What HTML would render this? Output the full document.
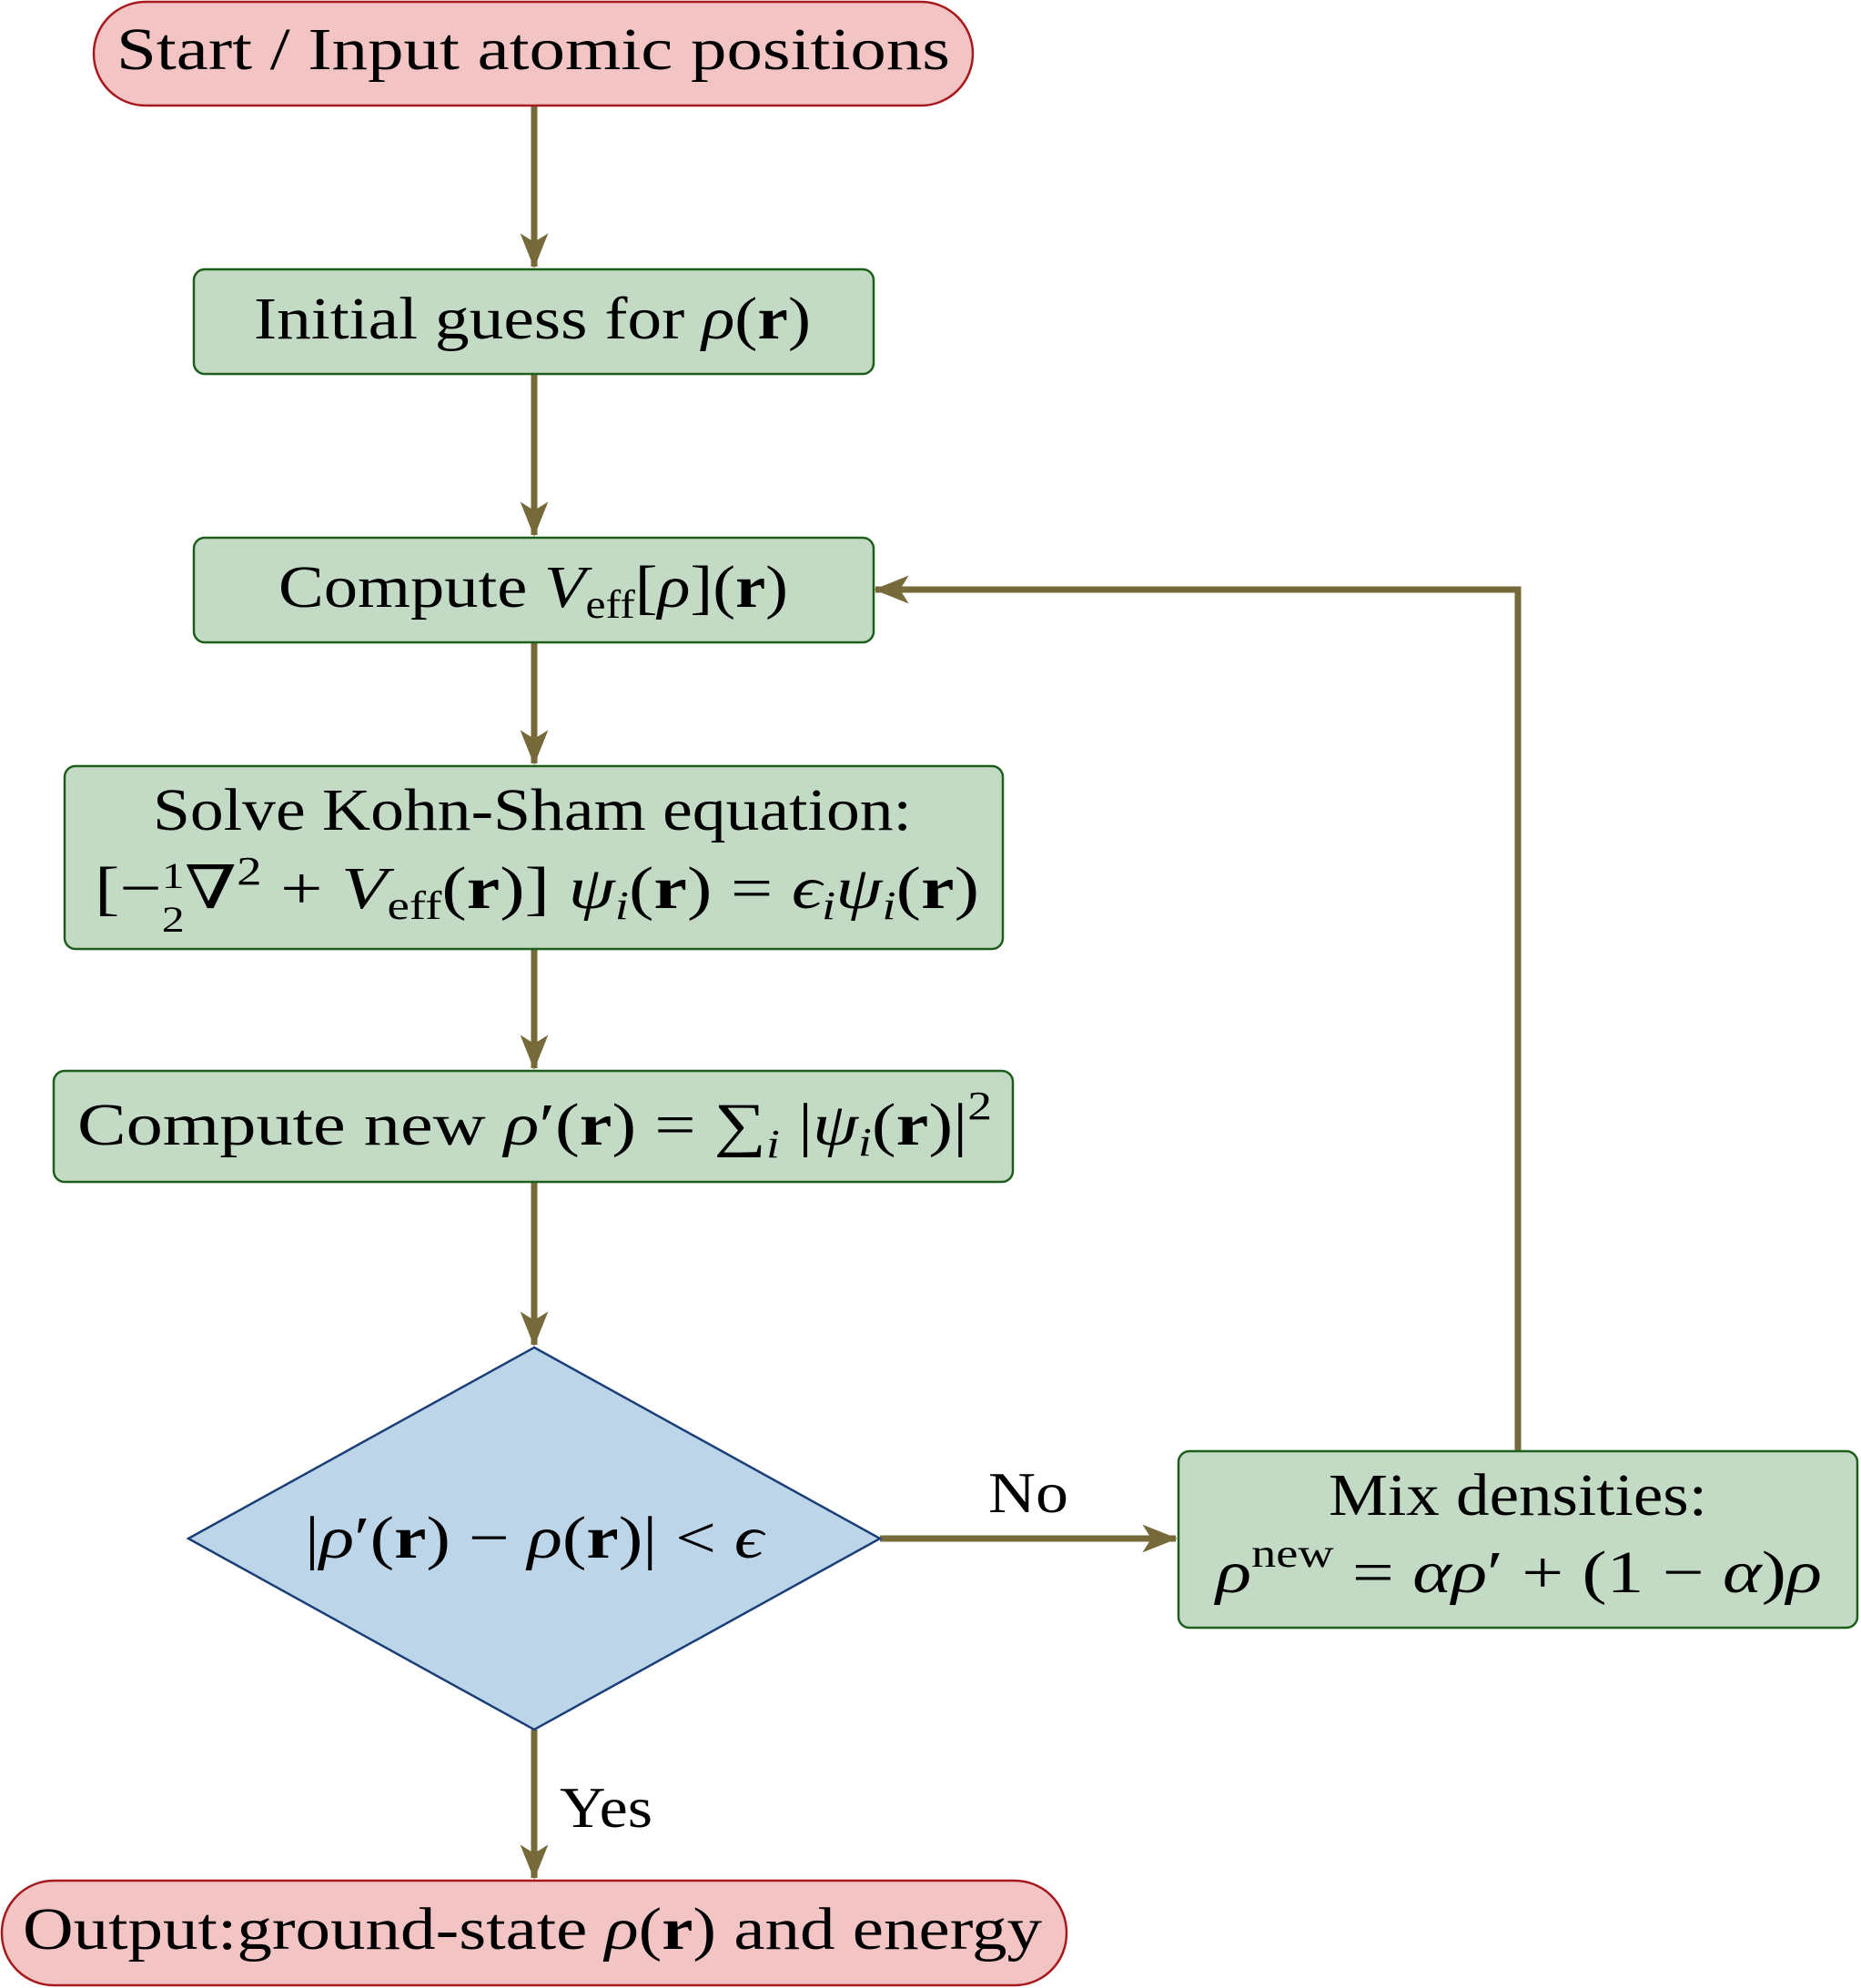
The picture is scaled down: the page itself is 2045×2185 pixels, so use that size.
<!DOCTYPE html>
<html><head><meta charset="utf-8"><style>
html,body{margin:0;padding:0;background:#fff}
svg{display:block}
text{font-family:"Liberation Serif","DejaVu Serif",serif;fill:#000}
.i{font-style:italic}
.b{font-weight:bold}
</style></head><body>
<svg width="2045" height="2185" viewBox="0 0 2045 2185" xmlns="http://www.w3.org/2000/svg">
<defs>
<marker id="ah" viewBox="0 0 20 16" refX="19" refY="8" markerWidth="5.5" markerHeight="4.8" orient="auto" markerUnits="strokeWidth">
<path d="M0,0 L20,8 L0,16 L5,8 Z" fill="#766a3b"/>
</marker>
</defs>
<g stroke="#766a3b" stroke-width="7" fill="none">
<line x1="587" y1="117" x2="587" y2="293" marker-end="url(#ah)"/>
<line x1="587" y1="412" x2="587" y2="588" marker-end="url(#ah)"/>
<line x1="587" y1="707" x2="587" y2="839" marker-end="url(#ah)"/>
<line x1="587" y1="1044" x2="587" y2="1174" marker-end="url(#ah)"/>
<line x1="587" y1="1300" x2="587" y2="1478" marker-end="url(#ah)"/>
<line x1="587" y1="1901" x2="587" y2="2064" marker-end="url(#ah)"/>
<line x1="967" y1="1691" x2="1292" y2="1691" marker-end="url(#ah)"/>
<polyline points="1668,1594 1668,648 962,648" marker-end="url(#ah)"/>
</g>
<rect x="103" y="2" width="966" height="114" rx="57" fill="#f2c4c4" stroke="#a8191e" stroke-width="2.5"/>
<rect x="213" y="296" width="747" height="115" rx="12" fill="#c3dbc4" stroke="#1d5e1d" stroke-width="2.5"/>
<rect x="213" y="591" width="747" height="115" rx="12" fill="#c3dbc4" stroke="#1d5e1d" stroke-width="2.5"/>
<rect x="71" y="842" width="1031" height="201" rx="12" fill="#c3dbc4" stroke="#1d5e1d" stroke-width="2.5"/>
<rect x="59" y="1177" width="1054" height="122" rx="12" fill="#c3dbc4" stroke="#1d5e1d" stroke-width="2.5"/>
<polygon points="587,1481 967,1691 587,1901 207,1691" fill="#bcd5e8" stroke="#1a3f78" stroke-width="2.5"/>
<rect x="1295" y="1595" width="746" height="194" rx="12" fill="#c3dbc4" stroke="#1d5e1d" stroke-width="2.5"/>
<rect x="2" y="2067" width="1170" height="115" rx="57" fill="#f2c4c4" stroke="#a8191e" stroke-width="2.5"/>
<text x="128" y="76" font-size="66" textLength="916" lengthAdjust="spacingAndGlyphs">Start / Input atomic positions</text>
<text x="279" y="372" font-size="66" textLength="612" lengthAdjust="spacingAndGlyphs">Initial guess for <tspan class="i">ρ</tspan>(<tspan class="b">r</tspan>)</text>
<text x="306" y="667" font-size="66" textLength="560" lengthAdjust="spacingAndGlyphs">Compute <tspan class="i">V</tspan><tspan font-size="44" dy="12">eff</tspan><tspan dy="-12">[</tspan><tspan class="i">ρ</tspan>](<tspan class="b">r</tspan>)</text>
<text x="168" y="912" font-size="66" textLength="834" lengthAdjust="spacingAndGlyphs">Solve Kohn-Sham equation:</text>
<text x="104" y="998" font-size="66" textLength="972" lengthAdjust="spacingAndGlyphs">[−<tspan font-size="40" dy="-22">1</tspan><tspan font-size="40" dx="-20" dy="48">2</tspan><tspan dy="-26">∇</tspan><tspan font-size="44" dy="-26">2</tspan><tspan dy="26"> + </tspan><tspan class="i">V</tspan><tspan font-size="44" dy="12">eff</tspan><tspan dy="-12">(</tspan><tspan class="b">r</tspan>)] <tspan class="i">ψ</tspan><tspan class="i" font-size="44" dy="12">i</tspan><tspan dy="-12">(</tspan><tspan class="b">r</tspan>) = <tspan class="i">ϵ</tspan><tspan class="i" font-size="44" dy="12">i</tspan><tspan class="i" dy="-12">ψ</tspan><tspan class="i" font-size="44" dy="12">i</tspan><tspan dy="-12">(</tspan><tspan class="b">r</tspan>)</text>
<text x="85" y="1258" font-size="66" textLength="1005" lengthAdjust="spacingAndGlyphs">Compute new <tspan class="i">ρ</tspan>′(<tspan class="b">r</tspan>) = ∑<tspan class="i" font-size="44" dy="14">i</tspan><tspan dy="-14"> |</tspan><tspan class="i">ψ</tspan><tspan class="i" font-size="44" dy="12">i</tspan><tspan dy="-12">(</tspan><tspan class="b">r</tspan>)|<tspan font-size="44" dy="-28">2</tspan></text>
<text x="335" y="1712" font-size="66" textLength="504" lengthAdjust="spacingAndGlyphs">|<tspan class="i">ρ</tspan>′(<tspan class="b">r</tspan>) − <tspan class="i">ρ</tspan>(<tspan class="b">r</tspan>)| &lt; <tspan class="i">ϵ</tspan></text>
<text x="1086" y="1662" font-size="64" textLength="88" lengthAdjust="spacingAndGlyphs">No</text>
<text x="1460" y="1665" font-size="66" textLength="416" lengthAdjust="spacingAndGlyphs">Mix densities:</text>
<text x="1336" y="1750" font-size="66" textLength="666" lengthAdjust="spacingAndGlyphs"><tspan class="i">ρ</tspan><tspan font-size="44" dy="-28">new</tspan><tspan dy="28"> = </tspan><tspan class="i">αρ</tspan>′ + (1 − <tspan class="i">α</tspan>)<tspan class="i">ρ</tspan></text>
<text x="615" y="2008" font-size="64" textLength="102" lengthAdjust="spacingAndGlyphs">Yes</text>
<text x="25" y="2142" font-size="66" textLength="1120" lengthAdjust="spacingAndGlyphs">Output:ground-state <tspan class="i">ρ</tspan>(<tspan class="b">r</tspan>) and energy</text>
</svg>
</body></html>
